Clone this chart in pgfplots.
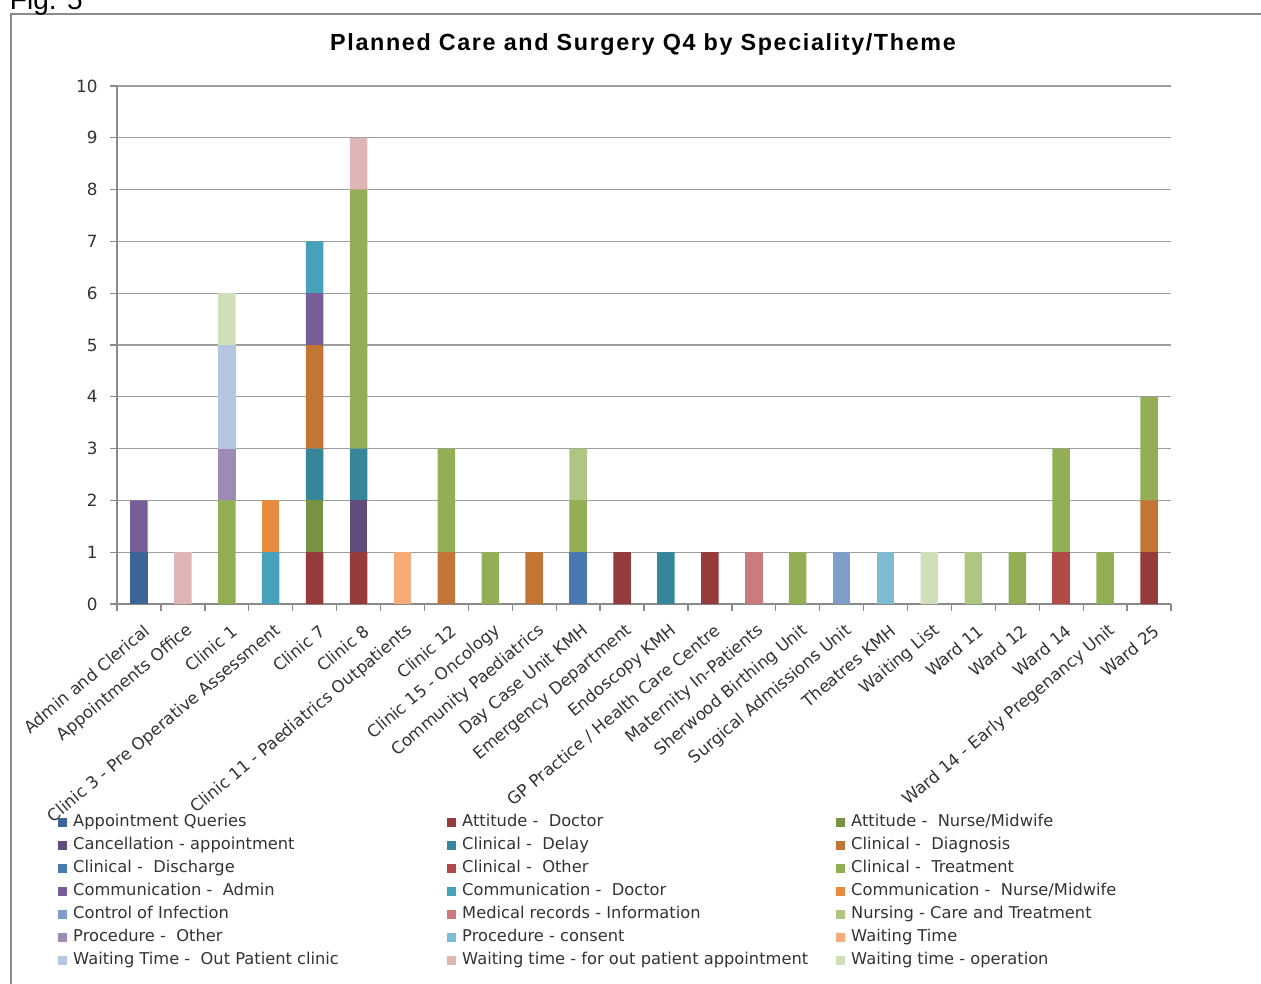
\documentclass[border=0pt]{standalone}
\usepackage{pgfplots}
\pgfplotsset{compat=1.18}
\usepackage{pgfplotstable}
\usepackage{fontspec}
\setmainfont{DejaVu Sans}
\newfontfamily\arialfont{Liberation Sans}
\newfontfamily\titlefont[LetterSpace=7]{Liberation Sans}

\definecolor{cAQ}{HTML}{3C6496}
\definecolor{cAD}{HTML}{953B3B}
\definecolor{cAN}{HTML}{779242}
\definecolor{cCA}{HTML}{624C7C}
\definecolor{cCDel}{HTML}{378699}
\definecolor{cCDia}{HTML}{C27535}
\definecolor{cCDis}{HTML}{4A78B0}
\definecolor{cCO}{HTML}{B24A48}
\definecolor{cCT}{HTML}{93AF55}
\definecolor{cCmA}{HTML}{785E98}
\definecolor{cCmD}{HTML}{47A1BA}
\definecolor{cCmN}{HTML}{E78B41}
\definecolor{cCI}{HTML}{7F9DC9}
\definecolor{cMR}{HTML}{CB7B7B}
\definecolor{cNC}{HTML}{AFC683}
\definecolor{cPO}{HTML}{9E8BB5}
\definecolor{cPC}{HTML}{7EBAD0}
\definecolor{cWT}{HTML}{F8AA79}
\definecolor{cWTOP}{HTML}{B6C6E1}
\definecolor{cWTA}{HTML}{DFB5B5}
\definecolor{cWTO}{HTML}{D0DEBA}
\definecolor{gridgray}{HTML}{9E9E9E}
\definecolor{axisgray}{HTML}{8A8A8A}
\definecolor{txt}{HTML}{333333}

\pgfplotstableread{
x  AQ AD AN CA CDel CDia CDis CO CT CmA CmD CmN CI MR NC PO PC WT WTOP WTA WTO
0  1  0  0  0  0    0    0    0  0  1   0   0   0  0  0  0  0  0  0    0   0
1  0  0  0  0  0    0    0    0  0  0   0   0   0  0  0  0  0  0  0    1   0
2  0  0  0  0  0    0    0    0  2  0   0   0   0  0  0  1  0  0  2    0   1
3  0  0  0  0  0    0    0    0  0  0   1   1   0  0  0  0  0  0  0    0   0
4  0  1  1  0  1    2    0    0  0  1   1   0   0  0  0  0  0  0  0    0   0
5  0  1  0  1  1    0    0    0  5  0   0   0   0  0  0  0  0  0  0    1   0
6  0  0  0  0  0    0    0    0  0  0   0   0   0  0  0  0  0  1  0    0   0
7  0  0  0  0  0    1    0    0  2  0   0   0   0  0  0  0  0  0  0    0   0
8  0  0  0  0  0    0    0    0  1  0   0   0   0  0  0  0  0  0  0    0   0
9  0  0  0  0  0    1    0    0  0  0   0   0   0  0  0  0  0  0  0    0   0
10 0  0  0  0  0    0    1    0  1  0   0   0   0  0  1  0  0  0  0    0   0
11 0  1  0  0  0    0    0    0  0  0   0   0   0  0  0  0  0  0  0    0   0
12 0  0  0  0  1    0    0    0  0  0   0   0   0  0  0  0  0  0  0    0   0
13 0  1  0  0  0    0    0    0  0  0   0   0   0  0  0  0  0  0  0    0   0
14 0  0  0  0  0    0    0    0  0  0   0   0   0  1  0  0  0  0  0    0   0
15 0  0  0  0  0    0    0    0  1  0   0   0   0  0  0  0  0  0  0    0   0
16 0  0  0  0  0    0    0    0  0  0   0   0   1  0  0  0  0  0  0    0   0
17 0  0  0  0  0    0    0    0  0  0   0   0   0  0  0  0  1  0  0    0   0
18 0  0  0  0  0    0    0    0  0  0   0   0   0  0  0  0  0  0  0    0   1
19 0  0  0  0  0    0    0    0  0  0   0   0   0  0  1  0  0  0  0    0   0
20 0  0  0  0  0    0    0    0  1  0   0   0   0  0  0  0  0  0  0    0   0
21 0  0  0  0  0    0    0    1  2  0   0   0   0  0  0  0  0  0  0    0   0
22 0  0  0  0  0    0    0    0  1  0   0   0   0  0  0  0  0  0  0    0   0
23 0  1  0  0  0    1    0    0  2  0   0   0   0  0  0  0  0  0  0    0   0
}\datatable

\newcommand\legtxt[1]{\makebox[280.5pt][l]{#1}}

\begin{document}
\begin{tikzpicture}
\useasboundingbox (0pt,0pt) rectangle (945.75pt,-737.25pt);
\draw[axisgray, line width=1.1pt] (8.25pt,-760pt) -- (8.25pt,-10.5pt) -- (950pt,-10.5pt);
\node[anchor=base west, inner sep=0pt, font=\arialfont\fontsize{21}{24}\selectfont] at (7.3pt,-6.75pt) {Fig. 5};
\node[anchor=base, inner sep=0pt, font=\titlefont\bfseries\fontsize{17.5}{20}\selectfont] at (482.25pt,-37.5pt) {Planned Care and Surgery Q4 by Speciality/Theme};
\begin{axis}[
  at={(87.75pt,-453pt)}, anchor=south west,
  scale only axis, width=790.5pt, height=388.5pt,
  ybar stacked, bar width=0.4,
  xmin=-0.5, xmax=23.5, ymin=0, ymax=10,
  xtick={0,...,23},
  minor xtick={-0.5,0.5,...,23.5},
  ytick={0,...,10},
  xticklabels={{Admin and Clerical},{Appointments Office},{Clinic 1},{Clinic 3 - Pre Operative Assessment},{Clinic 7},{Clinic 8},{Clinic 11 - Paediatrics Outpatients},{Clinic 12},{Clinic 15 - Oncology},{Community Paediatrics},{Day Case Unit KMH},{Emergency Department},{Endoscopy KMH},{GP Practice / Health Care Centre},{Maternity In-Patients},{Sherwood Birthing Unit},{Surgical Admissions Unit},{Theatres KMH},{Waiting List},{Ward 11},{Ward 12},{Ward 14},{Ward 14 - Early Pregenancy Unit},{Ward 25}},
  ymajorgrids, grid style={draw=gridgray, line width=1pt},
  axis x line*=bottom, axis y line*=left,
  axis line style={draw=axisgray, line width=1pt, -},
  tick align=outside,
  major tick length=5pt, minor tick length=5pt,
  major x tick style={draw=none},
  minor tick style={draw=axisgray, line width=1pt},
  major y tick style={draw=axisgray, line width=1pt},
  tick label style={font=\fontsize{12.6}{14}\selectfont, text=txt},
  yticklabel style={xshift=-6pt},
  xticklabel style={rotate=40, anchor=east, inner sep=2pt, yshift=-14pt, xshift=-2pt, font=\fontsize{12.5}{14}\selectfont},
  /pgf/number format/assume math mode=true,
  legend columns=3,
  legend cell align=left,
  legend style={at={(-0.0598,-0.40)}, anchor=north west, draw=none, fill=none,
    font=\fontsize{12.2}{14}\selectfont, text=txt, row sep=5.25pt,
    /tikz/column sep=0pt,
    nodes={inner sep=0pt, text height=9.5pt, text depth=2.5pt}},
  legend image code/.code={\fill[#1] (0pt,-3.4pt) rectangle (6.75pt,3.4pt); \path (0pt,0pt) -- (11.25pt,0pt);},
]
\addplot[fill=cAQ, draw=none] table[x=x,y=AQ]{\datatable};
\addlegendentry{\legtxt{Appointment Queries}}
\addplot[fill=cAD, draw=none] table[x=x,y=AD]{\datatable};
\addlegendentry{\legtxt{Attitude -\ \ Doctor}}
\addplot[fill=cAN, draw=none] table[x=x,y=AN]{\datatable};
\addlegendentry{\legtxt{Attitude -\ \ Nurse/Midwife}}
\addplot[fill=cCA, draw=none] table[x=x,y=CA]{\datatable};
\addlegendentry{\legtxt{Cancellation - appointment}}
\addplot[fill=cCDel, draw=none] table[x=x,y=CDel]{\datatable};
\addlegendentry{\legtxt{Clinical -\ \ Delay}}
\addplot[fill=cCDia, draw=none] table[x=x,y=CDia]{\datatable};
\addlegendentry{\legtxt{Clinical -\ \ Diagnosis}}
\addplot[fill=cCDis, draw=none] table[x=x,y=CDis]{\datatable};
\addlegendentry{\legtxt{Clinical -\ \ Discharge}}
\addplot[fill=cCO, draw=none] table[x=x,y=CO]{\datatable};
\addlegendentry{\legtxt{Clinical -\ \ Other}}
\addplot[fill=cCT, draw=none] table[x=x,y=CT]{\datatable};
\addlegendentry{\legtxt{Clinical -\ \ Treatment}}
\addplot[fill=cCmA, draw=none] table[x=x,y=CmA]{\datatable};
\addlegendentry{\legtxt{Communication -\ \ Admin}}
\addplot[fill=cCmD, draw=none] table[x=x,y=CmD]{\datatable};
\addlegendentry{\legtxt{Communication -\ \ Doctor}}
\addplot[fill=cCmN, draw=none] table[x=x,y=CmN]{\datatable};
\addlegendentry{\legtxt{Communication -\ \ Nurse/Midwife}}
\addplot[fill=cCI, draw=none] table[x=x,y=CI]{\datatable};
\addlegendentry{\legtxt{Control of Infection}}
\addplot[fill=cMR, draw=none] table[x=x,y=MR]{\datatable};
\addlegendentry{\legtxt{Medical records - Information}}
\addplot[fill=cNC, draw=none] table[x=x,y=NC]{\datatable};
\addlegendentry{\legtxt{Nursing - Care and Treatment}}
\addplot[fill=cPO, draw=none] table[x=x,y=PO]{\datatable};
\addlegendentry{\legtxt{Procedure -\ \ Other}}
\addplot[fill=cPC, draw=none] table[x=x,y=PC]{\datatable};
\addlegendentry{\legtxt{Procedure - consent}}
\addplot[fill=cWT, draw=none] table[x=x,y=WT]{\datatable};
\addlegendentry{\legtxt{Waiting Time}}
\addplot[fill=cWTOP, draw=none] table[x=x,y=WTOP]{\datatable};
\addlegendentry{\legtxt{Waiting Time -\ \ Out Patient clinic}}
\addplot[fill=cWTA, draw=none] table[x=x,y=WTA]{\datatable};
\addlegendentry{\legtxt{Waiting time - for out patient appointment}}
\addplot[fill=cWTO, draw=none] table[x=x,y=WTO]{\datatable};
\addlegendentry{\legtxt{Waiting time - operation}}
\end{axis}
\end{tikzpicture}
\end{document}
